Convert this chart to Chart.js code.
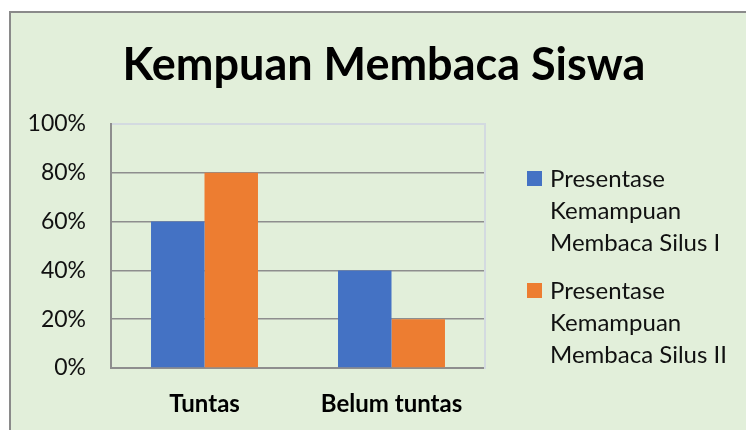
<!DOCTYPE html>
<html>
<head>
<meta charset="utf-8">
<script src="https://cdn.jsdelivr.net/npm/chart.js@4.4.1/dist/chart.umd.min.js"></script>
<style>
  html, body { margin: 0; padding: 0; background: #fff; }
  #wrap { position: relative; width: 746px; height: 430px; }
</style>
</head>
<body>
<div id="wrap"><canvas id="kemampuanChart" width="746" height="430"></canvas></div>
<script>
// data
const categories = ["Tuntas", "Belum tuntas"];
const seriesNames = [
  ["Presentase", "Kemampuan", "Membaca Silus I"],
  ["Presentase", "Kemampuan", "Membaca Silus II"],
];
const siklus1 = [0.6, 0.4];
const siklus2 = [0.8, 0.2];
const yTickLabels = ["0%", "20%", "40%", "60%", "80%", "100%"];

const palette = ["#4472C4", "#ED7D31"];
const bgGreen = "#E2EFDA";
const gridGray = "#8E8E8E";
const lightLine = "#D3DAE0";
const fontFam = "Lato, 'Open Sans', sans-serif";

// background box + left/top frame
const frameBg = {
  id: "frameBg",
  beforeDraw(chart) {
    const c = chart.ctx;
    c.save();
    c.fillStyle = bgGreen;
    c.fillRect(10, 12, chart.width - 10, chart.height - 12);
    c.fillStyle = "#8A8A8A";
    c.fillRect(9, 12, 2, chart.height - 12);
    c.fillRect(9, 11, chart.width - 9, 2);
    c.restore();
  },
};

// legend drawn by hand (multi-line labels)
const sideLegend = {
  id: "sideLegend",
  afterDraw(chart) {
    const c = chart.ctx;
    c.save();
    c.font = "24px " + fontFam;
    c.textBaseline = "middle";
    let y = 179;
    chart.data.datasets.forEach((ds, i) => {
      c.fillStyle = ds.backgroundColor;
      c.fillRect(527, y - 8, 15, 15);
      c.fillStyle = "#111";
      seriesNames[i].forEach((line, k) => {
        c.fillText(line, 550, y + k * 32);
      });
      y += 112;
    });
    c.restore();
  },
};

new Chart(document.getElementById("kemampuanChart"), {
  type: "bar",
  data: {
    labels: categories,
    datasets: [
      { label: seriesNames[0].join(" "), data: siklus1, backgroundColor: palette[0], yAxisID: "y" },
      { label: seriesNames[1].join(" "), data: siklus2, backgroundColor: palette[1], yAxisID: "y" },
    ],
  },
  plugins: [frameBg, sideLegend],
  options: {
    responsive: false,
    animation: false,
    devicePixelRatio: 1,
    layout: { padding: { left: 22, right: 0, top: 0, bottom: 0 } },
    datasets: { bar: { barPercentage: 1, categoryPercentage: 0.572 } },
    scales: {
      x: {
        grid: { display: false },
        border: { display: true, color: gridGray, width: 2 },
        ticks: { color: "#000", padding: 14, font: { family: fontFam, size: 24, weight: "bold" } },
        afterFit: (s) => { s.height = 62; },
      },
      y: {
        min: 0,
        max: 1,
        ticks: {
          stepSize: 0.2,
          padding: 25,
          color: "#111",
          font: { family: fontFam, size: 23 },
          callback: (v, i) => yTickLabels[i],
        },
        grid: {
          drawTicks: false,
          color: (ctx) => (ctx.tick && ctx.tick.value === 1 ? lightLine : gridGray),
          lineWidth: (ctx) => (ctx.tick && ctx.tick.value === 1 ? 2 : 1.5),
        },
        border: { display: true, color: gridGray, width: 2 },
        afterFit: (s) => { s.width = 89; },
      },
      y2: {
        position: "right",
        min: 0,
        max: 1,
        grid: { display: false, drawTicks: false },
        ticks: { display: false },
        border: { display: true, color: lightLine, width: 2 },
        afterFit: (s) => { s.width = 261; },
      },
    },
    plugins: {
      legend: { display: false },
      tooltip: { enabled: false },
      title: {
        display: true,
        text: "Kempuan Membaca Siswa",
        color: "#000",
        font: { family: fontFam, size: 45, weight: "bold" },
        padding: { top: 38, bottom: 32 },
      },
    },
  },
});
</script>
</body>
</html>
